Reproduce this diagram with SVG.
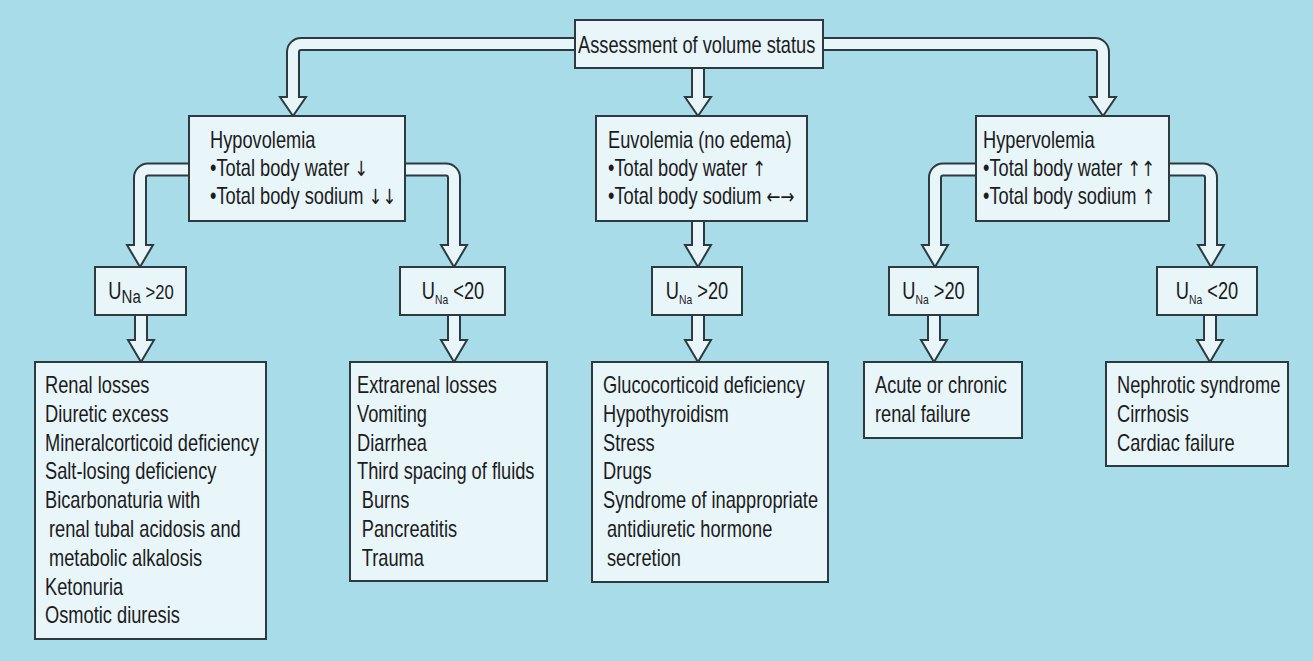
<svg xmlns="http://www.w3.org/2000/svg" width="1313" height="661" viewBox="0 0 1313 661">
  <defs>
    <style>
      .bg { fill: #a8dce9; }
      .box { fill: #e8f5f9; stroke: #2d3a40; stroke-width: 2; }
      .t { font-family: "Liberation Sans", Arial, Helvetica, sans-serif; font-size: 23px; fill: #1c1c1c; }
      .ar { font-family: "DejaVu Sans", sans-serif; font-size: 21px; }
      .pipe-out { fill: none; stroke: #2d3a40; stroke-width: 14; stroke-linecap: butt; stroke-linejoin: round; }
      .pipe-in { fill: none; stroke: #e8f5f9; stroke-width: 10; stroke-linecap: butt; stroke-linejoin: round; }
      .head { fill: #e8f5f9; stroke: #2d3a40; stroke-width: 2; stroke-linejoin: miter; }
      .sub { font-size: 13px; }
    </style>
  </defs>

  <rect class="bg" x="0" y="0" width="1313" height="661"/>

  <!-- hollow block-arrow connectors: dark outer stroke, arrow head, light inner stroke -->
  <g id="connectors">
    <g class="pipe-out">
      <path d="M576 44 H301 A8 8 0 0 0 293 52 V97"/>
      <path d="M698 67 V97"/>
      <path d="M822 44 H1095 A8 8 0 0 1 1103 52 V97"/>
      <path d="M190 169.5 H148 A8 8 0 0 0 140 177.5 V245"/>
      <path d="M404 169.5 H446 A8 8 0 0 1 454 177.5 V245"/>
      <path d="M698 220 V245"/>
      <path d="M977 169.5 H943 A8 8 0 0 0 935 177.5 V245"/>
      <path d="M1168 169.5 H1203 A8 8 0 0 1 1211 177.5 V245"/>
      <path d="M141 314 V340"/>
      <path d="M454 314 V340"/>
      <path d="M698 314 V340"/>
      <path d="M934 314 V340"/>
      <path d="M1210 314 V340"/>
    </g>
    <g class="head">
      <polygon points="280,97 306,97 293,116"/>
      <polygon points="685,97 711,97 698,116"/>
      <polygon points="1090,97 1116,97 1103,116"/>
      <polygon points="127,245 153,245 140,267"/>
      <polygon points="441,245 467,245 454,267"/>
      <polygon points="685,245 711,245 698,267"/>
      <polygon points="922,245 948,245 935,267"/>
      <polygon points="1198,245 1224,245 1211,267"/>
      <polygon points="128,340 154,340 141,362"/>
      <polygon points="441,340 467,340 454,362"/>
      <polygon points="685,340 711,340 698,362"/>
      <polygon points="921,340 947,340 934,362"/>
      <polygon points="1197,340 1223,340 1210,362"/>
    </g>
    <g class="pipe-in">
      <path d="M576 44 H301 A8 8 0 0 0 293 52 V99"/>
      <path d="M698 67 V99"/>
      <path d="M822 44 H1095 A8 8 0 0 1 1103 52 V99"/>
      <path d="M190 169.5 H148 A8 8 0 0 0 140 177.5 V247"/>
      <path d="M404 169.5 H446 A8 8 0 0 1 454 177.5 V247"/>
      <path d="M698 220 V247"/>
      <path d="M977 169.5 H943 A8 8 0 0 0 935 177.5 V247"/>
      <path d="M1168 169.5 H1203 A8 8 0 0 1 1211 177.5 V247"/>
      <path d="M141 314 V342"/>
      <path d="M454 314 V342"/>
      <path d="M698 314 V342"/>
      <path d="M934 314 V342"/>
      <path d="M1210 314 V342"/>
    </g>
  </g>

  <g id="assessment">
    <rect class="box" x="575" y="20" width="248" height="48"/>
    <text class="t" transform="translate(578,53) scale(0.794,1)">Assessment of volume status</text>
  </g>

  <g id="hypovolemia">
    <rect class="box" x="189" y="116" width="216" height="105"/>
    <text class="t" transform="translate(210,148) scale(0.794,1)">
      <tspan x="0" y="0">Hypovolemia</tspan>
      <tspan x="0" y="28">•Total body water <tspan class="ar">↓</tspan></tspan>
      <tspan x="0" y="56">•Total body sodium <tspan class="ar">↓↓</tspan></tspan>
    </text>
  </g>

  <g id="euvolemia">
    <rect class="box" x="596" y="116" width="211" height="105"/>
    <text class="t" transform="translate(608,148) scale(0.794,1)">
      <tspan x="0" y="0">Euvolemia (no edema)</tspan>
      <tspan x="0" y="28">•Total body water <tspan class="ar">↑</tspan></tspan>
      <tspan x="0" y="56">•Total body sodium <tspan class="ar">←→</tspan></tspan>
    </text>
  </g>

  <g id="hypervolemia">
    <rect class="box" x="976" y="116" width="193" height="105"/>
    <text class="t" transform="translate(983,148) scale(0.794,1)">
      <tspan x="0" y="0">Hypervolemia</tspan>
      <tspan x="0" y="28">•Total body water <tspan class="ar">↑↑</tspan></tspan>
      <tspan x="0" y="56">•Total body sodium <tspan class="ar">↑</tspan></tspan>
    </text>
  </g>

  <g id="hypo-una-high">
    <rect class="box" x="95" y="267" width="91" height="48"/>
    <text class="t" text-anchor="middle" transform="translate(141,299) scale(0.794,1)">U<tspan font-size="19" dy="4">Na</tspan><tspan font-size="21" dy="-4"> &gt;20</tspan></text>
  </g>

  <g id="hypo-una-low">
    <rect class="box" x="400" y="267" width="105" height="48"/>
    <text class="t" text-anchor="middle" transform="translate(453,299) scale(0.794,1)">U<tspan class="sub" dy="5">Na</tspan><tspan dy="-5"> &lt;20</tspan></text>
  </g>

  <g id="euvo-una-high">
    <rect class="box" x="652" y="267" width="90" height="48"/>
    <text class="t" text-anchor="middle" transform="translate(697,299) scale(0.794,1)">U<tspan class="sub" dy="5">Na</tspan><tspan dy="-5"> &gt;20</tspan></text>
  </g>

  <g id="hyper-una-high">
    <rect class="box" x="889" y="267" width="89" height="48"/>
    <text class="t" text-anchor="middle" transform="translate(933.5,299) scale(0.794,1)">U<tspan class="sub" dy="5">Na</tspan><tspan dy="-5"> &gt;20</tspan></text>
  </g>

  <g id="hyper-una-low">
    <rect class="box" x="1157" y="267" width="100" height="48"/>
    <text class="t" text-anchor="middle" transform="translate(1207,299) scale(0.794,1)">U<tspan class="sub" dy="5">Na</tspan><tspan dy="-5"> &lt;20</tspan></text>
  </g>

  <g id="renal-losses">
    <rect class="box" x="35" y="362" width="231" height="277"/>
    <text class="t" transform="translate(45,393) scale(0.794,1)">
      <tspan x="0" y="0">Renal losses</tspan>
      <tspan x="0" y="28.8">Diuretic excess</tspan>
      <tspan x="0" y="57.6">Mineralcorticoid deficiency</tspan>
      <tspan x="0" y="86.4">Salt-losing deficiency</tspan>
      <tspan x="0" y="115.2">Bicarbonaturia with</tspan>
      <tspan x="5" y="144">renal tubal acidosis and</tspan>
      <tspan x="5" y="172.8">metabolic alkalosis</tspan>
      <tspan x="0" y="201.6">Ketonuria</tspan>
      <tspan x="0" y="230.4">Osmotic diuresis</tspan>
    </text>
  </g>

  <g id="extrarenal-losses">
    <rect class="box" x="350" y="362" width="197" height="219"/>
    <text class="t" transform="translate(357,393) scale(0.794,1)">
      <tspan x="0" y="0">Extrarenal losses</tspan>
      <tspan x="0" y="28.8">Vomiting</tspan>
      <tspan x="0" y="57.6">Diarrhea</tspan>
      <tspan x="0" y="86.4">Third spacing of fluids</tspan>
      <tspan x="6" y="115.2">Burns</tspan>
      <tspan x="6" y="144">Pancreatitis</tspan>
      <tspan x="6" y="172.8">Trauma</tspan>
    </text>
  </g>

  <g id="euvolemic-causes">
    <rect class="box" x="592" y="362" width="236" height="220"/>
    <text class="t" transform="translate(603,393) scale(0.794,1)">
      <tspan x="0" y="0">Glucocorticoid deficiency</tspan>
      <tspan x="0" y="28.8">Hypothyroidism</tspan>
      <tspan x="0" y="57.6">Stress</tspan>
      <tspan x="0" y="86.4">Drugs</tspan>
      <tspan x="0" y="115.2">Syndrome of inappropriate</tspan>
      <tspan x="5" y="144">antidiuretic hormone</tspan>
      <tspan x="5" y="172.8">secretion</tspan>
    </text>
  </g>

  <g id="renal-failure">
    <rect class="box" x="864" y="362" width="158" height="76"/>
    <text class="t" transform="translate(875,393) scale(0.794,1)">
      <tspan x="0" y="0">Acute or chronic</tspan>
      <tspan x="0" y="28.8">renal failure</tspan>
    </text>
  </g>

  <g id="edematous-states">
    <rect class="box" x="1106" y="362" width="182" height="104"/>
    <text class="t" transform="translate(1117,393) scale(0.794,1)">
      <tspan x="0" y="0">Nephrotic syndrome</tspan>
      <tspan x="0" y="28.8">Cirrhosis</tspan>
      <tspan x="0" y="57.6">Cardiac failure</tspan>
    </text>
  </g>
</svg>
